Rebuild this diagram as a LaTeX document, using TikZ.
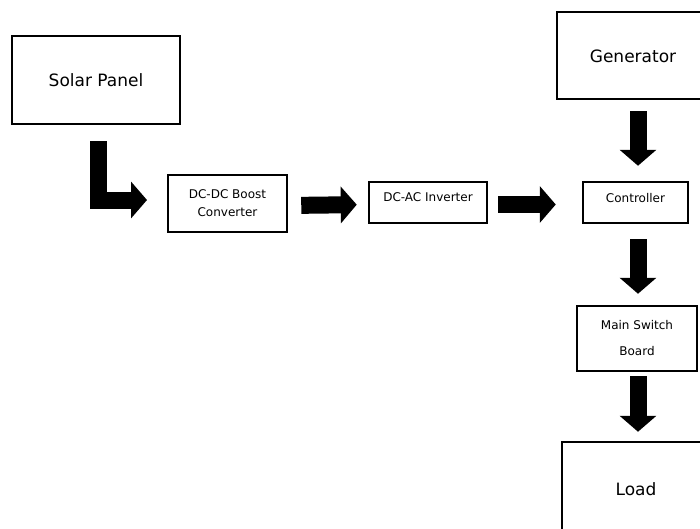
\documentclass[tikz,border=0pt]{standalone}
\usepackage{fontspec}
\setmainfont{DejaVu Sans}
\usetikzlibrary{arrows.meta}
\begin{document}
\begin{tikzpicture}[x=1pt,y=-1pt,
  box/.style={draw=black,line width=2.5pt,fill=white,inner sep=0pt,align=center},
  bigtext/.style={font=\fontsize{17}{20}\selectfont},
  smalltext/.style={font=\fontsize{12}{18}\selectfont},
  blk/.style={line width=17pt,line cap=butt,line join=miter,
    -{Triangle[length=16pt,width=36pt]}}]
\useasboundingbox (0,0) rectangle (700,528);
\fill[white] (0,0) rectangle (700,528);
\begin{scope}
\clip (0,0) rectangle (700,528);
% boxes
\node[box,minimum width=168pt,minimum height=88pt,bigtext] (sp) at (96,80) {Solar Panel};
\node[box,minimum width=119pt,minimum height=57pt,smalltext] (dcdc) at (227.5,203.5) {DC-DC Boost\\Converter};
\node[box,minimum width=118pt,minimum height=41pt,smalltext,text depth=10pt] (dcac) at (428,202.5) {DC-AC Inverter};
\node[box,minimum width=105pt,minimum height=41pt,smalltext,text depth=10pt] (ctl) at (635.5,202.5) {Controller};
\node[box,minimum width=148pt,minimum height=87pt,bigtext] (gen) at (631,55.5) {};
\node[bigtext] at (633,56) {Generator};
\node[box,minimum width=120pt,minimum height=65pt,font=\fontsize{12}{26}\selectfont] (msb) at (637,338.5) {Main Switch\\Board};
\node[box,minimum width=148pt,minimum height=94pt,bigtext] (load) at (636,489) {};
\node[bigtext] at (636,489) {Load};
\end{scope}
% connectors
\coordinate (spout) at (98.5,141);
\coordinate (dcin) at (147,200);
\draw[blk] (spout) |- (dcin);
\draw[blk,shorten <=13pt,shorten >=11pt] ([yshift=-2pt]dcdc.east) -- ([yshift=-2pt]dcac.west);
\draw[blk,shorten <=10pt,shorten >=26pt] ([yshift=-2pt]dcac.east) -- ([yshift=-2pt]ctl.west);
\draw[blk,shorten <=11pt,shorten >=15pt] ([xshift=7pt]gen.south) -- ([xshift=2.5pt]ctl.north);
\draw[blk,shorten <=15pt,shorten >=11pt] ([xshift=2.5pt]ctl.south) -- ([xshift=1pt]msb.north);
\draw[blk,shorten <=4pt,shorten >=9pt] ([xshift=1pt]msb.south) -- ([xshift=2pt]load.north);
\end{tikzpicture}
\end{document}
